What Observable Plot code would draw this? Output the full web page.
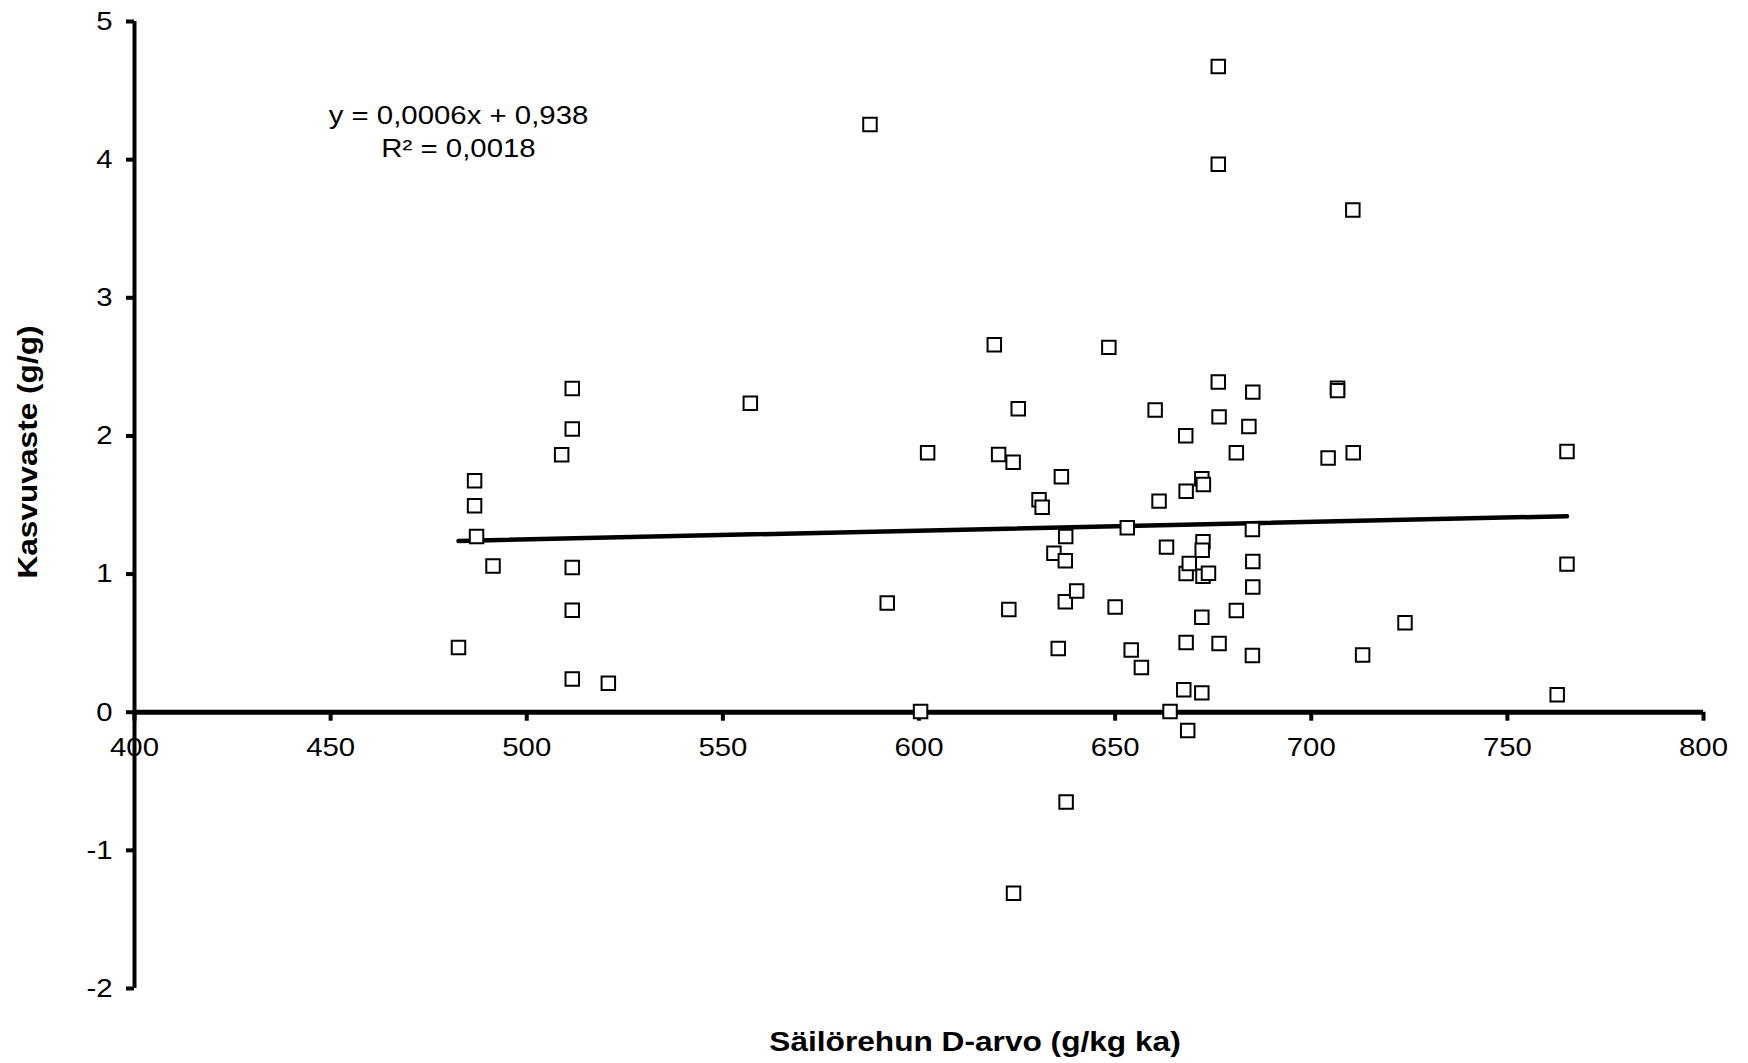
<!DOCTYPE html>
<html><head><meta charset="utf-8">
<script src="https://cdn.jsdelivr.net/npm/d3@7"></script>
<script src="https://cdn.jsdelivr.net/npm/@observablehq/plot@0.6"></script>
<style>body{margin:0;background:#fff;} svg{display:block}</style>
</head><body><div id="chart"></div>
<script>
// D-arvo (g/kg ka)
const xValues = [
  482.6, 486.7, 486.7, 487.2, 491.4, 508.9, 511.6, 511.6, 511.6, 511.6,
  511.6, 520.8, 557.0, 587.5, 591.9, 600.4, 602.2, 619.2, 620.3, 622.9,
  624.0, 624.1, 625.3, 630.6, 631.4, 634.4, 635.5, 636.3, 637.4, 637.3,
  637.3, 637.5, 640.2, 648.4, 650.0, 653.1, 654.1, 656.7, 660.2, 661.2,
  663.1, 664.0, 667.5, 668.0, 668.1, 668.1, 668.1, 668.9, 668.5, 672.1,
  672.5, 672.4, 672.2, 672.4, 672.1, 672.1, 673.8, 676.3, 676.3, 676.3,
  676.5, 676.5, 680.9, 680.9, 684.1, 685.1, 685.0, 685.1, 685.1, 685.0,
  704.3, 706.7, 706.7, 710.6, 710.7, 713.1, 723.9, 762.7, 765.2, 765.2
];
// Kasvuvaste (g/g)
const yValues = [
  0.468, 1.675, 1.494, 1.272, 1.059, 1.863, 2.344, 2.050, 1.047, 0.738,
  0.240, 0.209, 2.236, 4.254, 0.790, 0.005, 1.879, 2.660, 1.866, 0.743,
  1.810, -1.31, 2.197, 1.538, 1.483, 1.151, 0.461, 1.704, 1.272, 1.096,
  0.799, -0.65, 0.877, 2.641, 0.762, 1.335, 0.450, 0.323, 2.188, 1.528,
  1.195, 0.005, 0.163, 2.001, 1.600, 1.004, 0.505, 1.076, -0.132, 1.690,
  1.649, 1.234, 1.173, 0.985, 0.687, 0.140, 1.006, 4.674, 3.966, 2.390,
  2.138, 0.498, 1.879, 0.736, 2.069, 2.317, 1.323, 1.091, 0.906, 0.411,
  1.841, 2.346, 2.328, 3.635, 1.879, 0.414, 0.647, 0.127, 1.887, 1.072
];
const xTicks = [400, 450, 500, 550, 600, 650, 700, 750, 800];
const yTicks = [-2, -1, 0, 1, 2, 3, 4, 5];
const trendX = [482.6, 765.2];
const trendY = [1.240, 1.419];
const equationLines = ["y = 0,0006x + 0,938", "R² = 0,0018"];
const xTitle = "Säilörehun D-arvo (g/kg ka)";
const yTitle = "Kasvuvaste (g/g)";

const points = xValues.map((x, i) => ({x, y: yValues[i]}));
const trend = trendX.map((x, i) => ({x, y: trendY[i]}));
const font = "Liberation Sans, Arial, sans-serif";

const chart = Plot.plot({
  width: 1748, height: 1063,
  marginLeft: 134, marginRight: 45, marginTop: 21, marginBottom: 75,
  style: {fontFamily: font, background: "white", color: "black"},
  x: {domain: [400, 800], axis: null},
  y: {domain: [-2, 5], axis: null},
  marks: [
    Plot.ruleY([0], {strokeWidth: 5, stroke: "black"}),
    Plot.ruleX(xTicks, {x: d => d, y1: 0, y2: -0.065, strokeWidth: 4, stroke: "black"}),
    Plot.text(xTicks, {x: d => d, y: 0, dy: 35, text: d => String(d), fontSize: 26, fill: "black"}),
    Plot.ruleX([xTicks[0]], {x: d => d, y1: yTicks[0], y2: yTicks[yTicks.length - 1], strokeWidth: 4, stroke: "black"}),
    Plot.axisY({ticks: yTicks, tickSize: 8, tickPadding: 14, fontSize: 26, strokeWidth: 4, tickFormat: d => String(d), label: null}),
    Plot.line(trend, {x: "x", y: "y", strokeWidth: 4.5, stroke: "black"}),
    Plot.dot(points, {x: "x", y: "y", symbol: "square", r: 7.6, fill: "white", stroke: "black", strokeWidth: 2}),
    Plot.text([equationLines.join("\n")], {frameAnchor: "top-left", text: d => d, dx: 324, dy: 108, textAnchor: "middle", lineAnchor: "middle", lineHeight: 1.27, fontSize: 26, fill: "black"}),
    Plot.text([xTitle], {frameAnchor: "bottom", text: d => d, dx: 56, dy: 54, textAnchor: "middle", lineAnchor: "middle", fontSize: 28, fontWeight: "bold", fill: "black"}),
    Plot.text([yTitle], {frameAnchor: "left", text: d => d, dx: -106, dy: -53, rotate: -90, textAnchor: "middle", lineAnchor: "middle", fontSize: 28, fontWeight: "bold", fill: "black"})
  ]
});
document.getElementById("chart").append(chart);

// The reference's lettering is horizontally wider than plain Arial: stretch each text run.
const stretch = 1.13;
chart.querySelectorAll("text").forEach(t => {
  const spans = t.querySelectorAll("tspan");
  const runs = spans.length ? Array.from(spans) : [t];
  runs.forEach(r => {
    const len = r.getComputedTextLength();
    if (len > 0) {
      r.setAttribute("textLength", (len * stretch).toFixed(1));
      r.setAttribute("lengthAdjust", "spacingAndGlyphs");
    }
  });
});
</script>
</body></html>
